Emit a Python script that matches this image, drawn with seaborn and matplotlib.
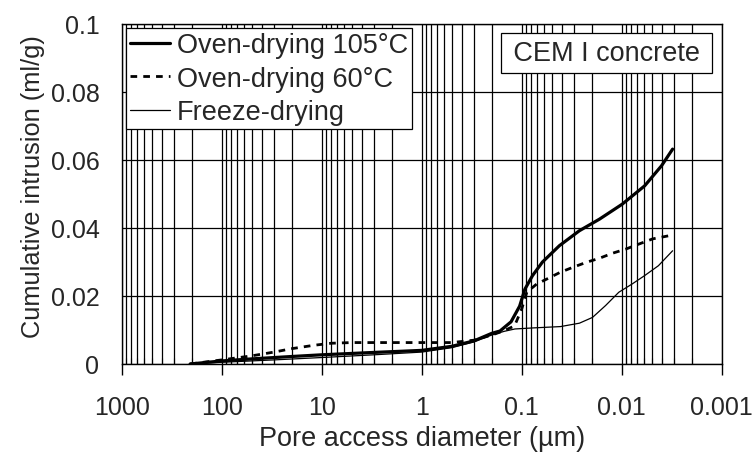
import numpy as np
import pandas as pd
import matplotlib
matplotlib.use("Agg")
import matplotlib.pyplot as plt
import seaborn as sns
from matplotlib.ticker import LogLocator, FixedLocator, FixedFormatter

# Pore access diameter (µm) and cumulative intrusion (ml/g) per drying method
d_oven105 = [207, 100, 50, 20, 10, 3, 1, 0.5, 0.3, 0.2, 0.165, 0.128, 0.105, 0.093,
             0.078, 0.062, 0.042, 0.0265, 0.0167, 0.0099, 0.0059, 0.0040, 0.0031]
v_oven105 = [0.0, 0.0009, 0.0015, 0.0022, 0.0027, 0.0034, 0.0040, 0.0052, 0.0068, 0.0090,
             0.0097, 0.0124, 0.0170, 0.0220, 0.0260, 0.0300, 0.0348, 0.0392, 0.0426,
             0.0470, 0.0524, 0.0583, 0.0632]

d_oven60 = [207, 100, 50, 30, 20, 12, 8, 5, 1, 0.5, 0.3, 0.2, 0.15, 0.118, 0.1, 0.089,
            0.071, 0.056, 0.041, 0.031, 0.0226, 0.0167, 0.0123, 0.0091, 0.0067, 0.0049,
            0.0034]
v_oven60 = [0.0, 0.0012, 0.0024, 0.0035, 0.0045, 0.0055, 0.0061, 0.0063, 0.0063, 0.0063,
            0.0070, 0.0085, 0.0098, 0.0112, 0.0162, 0.0211, 0.0235, 0.0250, 0.0270,
            0.0284, 0.0299, 0.0311, 0.0326, 0.0338, 0.0353, 0.0368, 0.0377]

d_freeze = [207, 100, 30, 10, 3, 1, 0.5, 0.3, 0.2, 0.15, 0.117, 0.078, 0.041, 0.0265,
            0.0196, 0.0145, 0.0107, 0.0079, 0.0059, 0.0043, 0.0031]
v_freeze = [0.0, 0.0005, 0.0012, 0.0019, 0.0027, 0.0035, 0.0048, 0.0065, 0.0085, 0.0096,
            0.0103, 0.0106, 0.0110, 0.0120, 0.0137, 0.0172, 0.0211, 0.0235, 0.0260,
            0.0289, 0.0333]

series_names = ["Oven-drying 105°C", "Oven-drying 60°C", "Freeze-drying"]
x_ticks = [1000, 100, 10, 1, 0.1, 0.01, 0.001]
x_tick_labels = ["1000", "100", "10", "1", "0.1", "0.01", "0.001"]
y_ticks = [0, 0.02, 0.04, 0.06, 0.08, 0.1]
y_tick_labels = ["0", "0.02", "0.04", "0.06", "0.08", "0.1"]

sns.set_theme(style="white")
plt.rcParams["font.family"] = ["Liberation Sans", "DejaVu Sans"]

fig = plt.figure(figsize=(7.56, 4.56), dpi=100)
ax = fig.add_axes([0.161, 0.1996, 0.7937, 0.7456])

frames = [
    pd.DataFrame({"d": d_oven105, "v": v_oven105}),
    pd.DataFrame({"d": d_oven60, "v": v_oven60}),
    pd.DataFrame({"d": d_freeze, "v": v_freeze}),
]
styles = [
    dict(linewidth=2.3, linestyle="-"),
    dict(linewidth=2.0, dashes=(2.4, 2.2)),
    dict(linewidth=0.9, linestyle="-"),
]
for df, name, st in zip(frames, series_names, styles):
    line_kw = dict(st)
    dashes = line_kw.pop("dashes", None)
    sns.lineplot(data=df, x="d", y="v", ax=ax, color="black", sort=False,
                 estimator=None, label=name, **line_kw)
    if dashes is not None:
        ax.lines[-1].set_dashes(dashes)

ax.set_xscale("log")
ax.set_xlim(1000, 0.001)
ax.set_ylim(0, 0.1)

ax.xaxis.set_major_locator(FixedLocator(x_ticks))
ax.xaxis.set_major_formatter(FixedFormatter(x_tick_labels))
ax.xaxis.set_minor_locator(LogLocator(base=10, subs=np.arange(2, 10), numticks=20))
ax.yaxis.set_major_locator(FixedLocator(y_ticks))
ax.yaxis.set_major_formatter(FixedFormatter(y_tick_labels))

ax.grid(True, which="major", axis="both", color="black", linewidth=0.9)
ax.grid(True, which="minor", axis="x", color="black", linewidth=0.9)
ax.set_axisbelow(True)

for s in ax.spines.values():
    s.set_color("black")
    s.set_linewidth(1.0)

ax.tick_params(axis="x", which="major", direction="out", length=8, width=1,
               color="black", labelsize=18, pad=14, bottom=True)
ax.tick_params(axis="x", which="minor", direction="in", length=4, width=0.8,
               color="black", bottom=True)
ax.tick_params(axis="y", which="major", length=0, labelsize=18, pad=16)

ax.set_xlabel("Pore access diameter (µm)", fontsize=19.5, labelpad=5)
ax.set_ylabel("Cumulative intrusion (ml/g)", fontsize=18.3, labelpad=4, y=0.526)

leg = ax.legend(loc="upper left", fontsize=19.5, frameon=True, fancybox=False,
                edgecolor="black", framealpha=1, borderpad=0.15, labelspacing=0.28,
                handlelength=1.5, handletextpad=0.25, borderaxespad=0.15)
leg.get_frame().set_linewidth(0.9)

ax.text(0.972, 0.953, "\u2009CEM I concrete\u2009", transform=ax.transAxes, ha="right",
        va="top", fontsize=19.5,
        bbox=dict(boxstyle="square,pad=0.25", fc="white", ec="black", lw=0.9))

fig.savefig("out.png", dpi=100)
